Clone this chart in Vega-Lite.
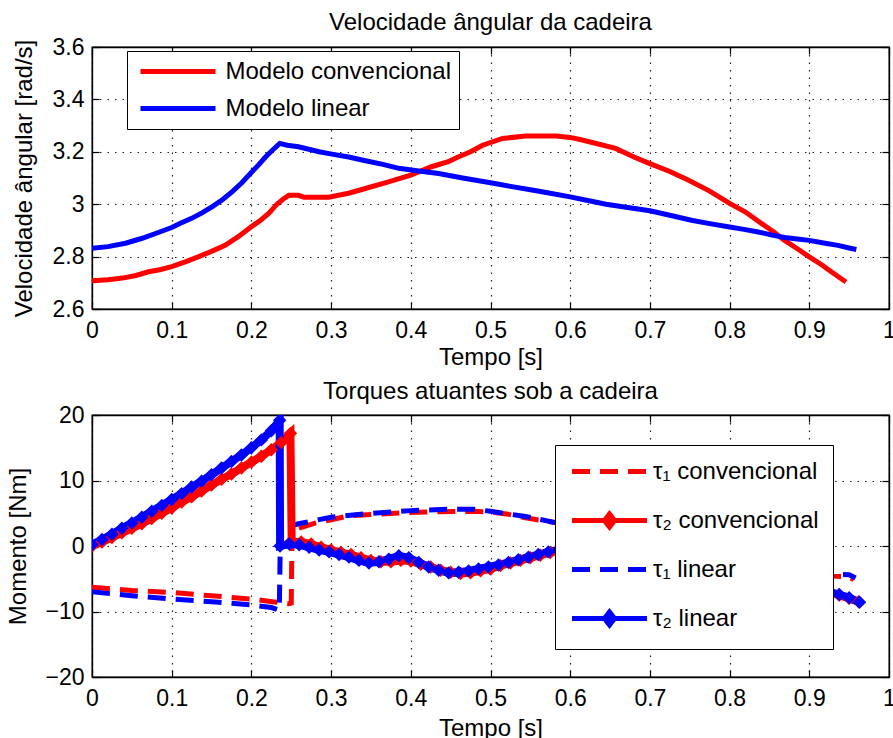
{
  "$schema": "https://vega.github.io/schema/vega-lite/v6.json",
  "padding": {"left": 5, "top": 10, "right": 0, "bottom": 0},
  "background": "white",
  "config": {
    "font": "Liberation Sans",
    "view": {"stroke": "black", "strokeWidth": 1.3},
    "axis": {"labelFontSize": 23, "labelColor": "black", "titleFontSize": 24, "titleFontWeight": "normal", "titleColor": "black", "domainColor": "black", "domainWidth": 1.3, "tickColor": "black", "tickWidth": 1.2, "tickSize": -7, "labelFlush": false, "labelOverlap": false, "gridColor": "#222", "gridDash": [1.5, 6], "gridWidth": 1.2},
    "axisX": {"labelPadding": 17},
    "axisY": {"labelPadding": 15},
    "title": {"fontSize": 24, "fontWeight": "normal", "color": "black", "baseline": "alphabetic", "frame": "group"}
  },
  "datasets": {
    "vel": [
      {"t": 0, "v": 2.708, "s": "Modelo convencional"},
      {"t": 0.02, "v": 2.712, "s": "Modelo convencional"},
      {"t": 0.038, "v": 2.718, "s": "Modelo convencional"},
      {"t": 0.055, "v": 2.728, "s": "Modelo convencional"},
      {"t": 0.071, "v": 2.742, "s": "Modelo convencional"},
      {"t": 0.085, "v": 2.75, "s": "Modelo convencional"},
      {"t": 0.1, "v": 2.762, "s": "Modelo convencional"},
      {"t": 0.117, "v": 2.78, "s": "Modelo convencional"},
      {"t": 0.134, "v": 2.8, "s": "Modelo convencional"},
      {"t": 0.15, "v": 2.82, "s": "Modelo convencional"},
      {"t": 0.167, "v": 2.843, "s": "Modelo convencional"},
      {"t": 0.183, "v": 2.875, "s": "Modelo convencional"},
      {"t": 0.199, "v": 2.912, "s": "Modelo convencional"},
      {"t": 0.212, "v": 2.94, "s": "Modelo convencional"},
      {"t": 0.222, "v": 2.966, "s": "Modelo convencional"},
      {"t": 0.232, "v": 3.0, "s": "Modelo convencional"},
      {"t": 0.24, "v": 3.02, "s": "Modelo convencional"},
      {"t": 0.247, "v": 3.034, "s": "Modelo convencional"},
      {"t": 0.259, "v": 3.034, "s": "Modelo convencional"},
      {"t": 0.266, "v": 3.027, "s": "Modelo convencional"},
      {"t": 0.297, "v": 3.027, "s": "Modelo convencional"},
      {"t": 0.322, "v": 3.042, "s": "Modelo convencional"},
      {"t": 0.343, "v": 3.06, "s": "Modelo convencional"},
      {"t": 0.372, "v": 3.085, "s": "Modelo convencional"},
      {"t": 0.4, "v": 3.111, "s": "Modelo convencional"},
      {"t": 0.426, "v": 3.143, "s": "Modelo convencional"},
      {"t": 0.447, "v": 3.162, "s": "Modelo convencional"},
      {"t": 0.46, "v": 3.181, "s": "Modelo convencional"},
      {"t": 0.475, "v": 3.2, "s": "Modelo convencional"},
      {"t": 0.49, "v": 3.225, "s": "Modelo convencional"},
      {"t": 0.515, "v": 3.251, "s": "Modelo convencional"},
      {"t": 0.544, "v": 3.26, "s": "Modelo convencional"},
      {"t": 0.582, "v": 3.26, "s": "Modelo convencional"},
      {"t": 0.6, "v": 3.255, "s": "Modelo convencional"},
      {"t": 0.615, "v": 3.245, "s": "Modelo convencional"},
      {"t": 0.657, "v": 3.213, "s": "Modelo convencional"},
      {"t": 0.68, "v": 3.18, "s": "Modelo convencional"},
      {"t": 0.7, "v": 3.155, "s": "Modelo convencional"},
      {"t": 0.725, "v": 3.125, "s": "Modelo convencional"},
      {"t": 0.748, "v": 3.092, "s": "Modelo convencional"},
      {"t": 0.775, "v": 3.05, "s": "Modelo convencional"},
      {"t": 0.8, "v": 3.003, "s": "Modelo convencional"},
      {"t": 0.82, "v": 2.97, "s": "Modelo convencional"},
      {"t": 0.836, "v": 2.935, "s": "Modelo convencional"},
      {"t": 0.855, "v": 2.895, "s": "Modelo convencional"},
      {"t": 0.869, "v": 2.862, "s": "Modelo convencional"},
      {"t": 0.885, "v": 2.83, "s": "Modelo convencional"},
      {"t": 0.9, "v": 2.799, "s": "Modelo convencional"},
      {"t": 0.915, "v": 2.77, "s": "Modelo convencional"},
      {"t": 0.928, "v": 2.741, "s": "Modelo convencional"},
      {"t": 0.946, "v": 2.703, "s": "Modelo convencional"},
      {"t": 0, "v": 2.832, "s": "Modelo linear"},
      {"t": 0.02, "v": 2.838, "s": "Modelo linear"},
      {"t": 0.042, "v": 2.851, "s": "Modelo linear"},
      {"t": 0.063, "v": 2.87, "s": "Modelo linear"},
      {"t": 0.084, "v": 2.893, "s": "Modelo linear"},
      {"t": 0.1, "v": 2.911, "s": "Modelo linear"},
      {"t": 0.113, "v": 2.93, "s": "Modelo linear"},
      {"t": 0.125, "v": 2.946, "s": "Modelo linear"},
      {"t": 0.138, "v": 2.967, "s": "Modelo linear"},
      {"t": 0.151, "v": 2.991, "s": "Modelo linear"},
      {"t": 0.164, "v": 3.018, "s": "Modelo linear"},
      {"t": 0.176, "v": 3.048, "s": "Modelo linear"},
      {"t": 0.188, "v": 3.082, "s": "Modelo linear"},
      {"t": 0.199, "v": 3.118, "s": "Modelo linear"},
      {"t": 0.209, "v": 3.15, "s": "Modelo linear"},
      {"t": 0.218, "v": 3.181, "s": "Modelo linear"},
      {"t": 0.226, "v": 3.205, "s": "Modelo linear"},
      {"t": 0.2356, "v": 3.232, "s": "Modelo linear"},
      {"t": 0.245, "v": 3.225, "s": "Modelo linear"},
      {"t": 0.259, "v": 3.219, "s": "Modelo linear"},
      {"t": 0.285, "v": 3.2, "s": "Modelo linear"},
      {"t": 0.301, "v": 3.191, "s": "Modelo linear"},
      {"t": 0.322, "v": 3.18, "s": "Modelo linear"},
      {"t": 0.343, "v": 3.166, "s": "Modelo linear"},
      {"t": 0.365, "v": 3.152, "s": "Modelo linear"},
      {"t": 0.385, "v": 3.137, "s": "Modelo linear"},
      {"t": 0.41, "v": 3.127, "s": "Modelo linear"},
      {"t": 0.435, "v": 3.117, "s": "Modelo linear"},
      {"t": 0.465, "v": 3.1, "s": "Modelo linear"},
      {"t": 0.5, "v": 3.082, "s": "Modelo linear"},
      {"t": 0.525, "v": 3.068, "s": "Modelo linear"},
      {"t": 0.552, "v": 3.054, "s": "Modelo linear"},
      {"t": 0.575, "v": 3.042, "s": "Modelo linear"},
      {"t": 0.6, "v": 3.028, "s": "Modelo linear"},
      {"t": 0.622, "v": 3.014, "s": "Modelo linear"},
      {"t": 0.645, "v": 3.0, "s": "Modelo linear"},
      {"t": 0.67, "v": 2.988, "s": "Modelo linear"},
      {"t": 0.7, "v": 2.975, "s": "Modelo linear"},
      {"t": 0.725, "v": 2.958, "s": "Modelo linear"},
      {"t": 0.752, "v": 2.939, "s": "Modelo linear"},
      {"t": 0.775, "v": 2.926, "s": "Modelo linear"},
      {"t": 0.8, "v": 2.913, "s": "Modelo linear"},
      {"t": 0.818, "v": 2.904, "s": "Modelo linear"},
      {"t": 0.836, "v": 2.894, "s": "Modelo linear"},
      {"t": 0.852, "v": 2.883, "s": "Modelo linear"},
      {"t": 0.869, "v": 2.873, "s": "Modelo linear"},
      {"t": 0.885, "v": 2.867, "s": "Modelo linear"},
      {"t": 0.9, "v": 2.862, "s": "Modelo linear"},
      {"t": 0.918, "v": 2.852, "s": "Modelo linear"},
      {"t": 0.936, "v": 2.843, "s": "Modelo linear"},
      {"t": 0.95, "v": 2.833, "s": "Modelo linear"},
      {"t": 0.959, "v": 2.827, "s": "Modelo linear"}
    ],
    "tor": [
      {"t": 0, "v": -6.3, "s": "τ₁ convencional"},
      {"t": 0.05, "v": -6.8, "s": "τ₁ convencional"},
      {"t": 0.1, "v": -7.1, "s": "τ₁ convencional"},
      {"t": 0.15, "v": -7.6, "s": "τ₁ convencional"},
      {"t": 0.2, "v": -8.1, "s": "τ₁ convencional"},
      {"t": 0.226, "v": -8.5, "s": "τ₁ convencional"},
      {"t": 0.247, "v": -8.8, "s": "τ₁ convencional"},
      {"t": 0.25, "v": -8.7, "s": "τ₁ convencional"},
      {"t": 0.251, "v": 2.4, "s": "τ₁ convencional"},
      {"t": 0.28, "v": 3.5, "s": "τ₁ convencional"},
      {"t": 0.3, "v": 4.0, "s": "τ₁ convencional"},
      {"t": 0.322, "v": 4.6, "s": "τ₁ convencional"},
      {"t": 0.364, "v": 4.9, "s": "τ₁ convencional"},
      {"t": 0.4, "v": 5.1, "s": "τ₁ convencional"},
      {"t": 0.427, "v": 5.2, "s": "τ₁ convencional"},
      {"t": 0.477, "v": 5.3, "s": "τ₁ convencional"},
      {"t": 0.5, "v": 5.2, "s": "τ₁ convencional"},
      {"t": 0.52, "v": 4.9, "s": "τ₁ convencional"},
      {"t": 0.544, "v": 4.3, "s": "τ₁ convencional"},
      {"t": 0.58, "v": 3.6, "s": "τ₁ convencional"},
      {"t": 0.62, "v": 2.6, "s": "τ₁ convencional"},
      {"t": 0.66, "v": 1.5, "s": "τ₁ convencional"},
      {"t": 0.7, "v": 0.4, "s": "τ₁ convencional"},
      {"t": 0.75, "v": -1.0, "s": "τ₁ convencional"},
      {"t": 0.8, "v": -2.3, "s": "τ₁ convencional"},
      {"t": 0.85, "v": -3.4, "s": "τ₁ convencional"},
      {"t": 0.9, "v": -4.2, "s": "τ₁ convencional"},
      {"t": 0.928, "v": -4.6, "s": "τ₁ convencional"},
      {"t": 0.948, "v": -4.7, "s": "τ₁ convencional"},
      {"t": 0.956, "v": -5.1, "s": "τ₁ convencional"},
      {"t": 0, "v": 0, "s": "τ₂ convencional"},
      {"t": 0.0125, "v": 0.6, "s": "τ₂ convencional"},
      {"t": 0.025, "v": 1.3, "s": "τ₂ convencional"},
      {"t": 0.0375, "v": 2.0, "s": "τ₂ convencional"},
      {"t": 0.05, "v": 2.7, "s": "τ₂ convencional"},
      {"t": 0.0625, "v": 3.4, "s": "τ₂ convencional"},
      {"t": 0.075, "v": 4.2, "s": "τ₂ convencional"},
      {"t": 0.0875, "v": 5.0, "s": "τ₂ convencional"},
      {"t": 0.1, "v": 5.8, "s": "τ₂ convencional"},
      {"t": 0.1125, "v": 6.7, "s": "τ₂ convencional"},
      {"t": 0.125, "v": 7.5, "s": "τ₂ convencional"},
      {"t": 0.1375, "v": 8.4, "s": "τ₂ convencional"},
      {"t": 0.15, "v": 9.3, "s": "τ₂ convencional"},
      {"t": 0.1625, "v": 10.2, "s": "τ₂ convencional"},
      {"t": 0.175, "v": 11.0, "s": "τ₂ convencional"},
      {"t": 0.1875, "v": 11.9, "s": "τ₂ convencional"},
      {"t": 0.2, "v": 12.8, "s": "τ₂ convencional"},
      {"t": 0.2125, "v": 13.7, "s": "τ₂ convencional"},
      {"t": 0.225, "v": 14.7, "s": "τ₂ convencional"},
      {"t": 0.2375, "v": 15.8, "s": "τ₂ convencional"},
      {"t": 0.249, "v": 17.2, "s": "τ₂ convencional"},
      {"t": 0.2505, "v": 0.8, "s": "τ₂ convencional"},
      {"t": 0.2625, "v": 0.6, "s": "τ₂ convencional"},
      {"t": 0.275, "v": 0.3, "s": "τ₂ convencional"},
      {"t": 0.2875, "v": -0.2, "s": "τ₂ convencional"},
      {"t": 0.3, "v": -0.6, "s": "τ₂ convencional"},
      {"t": 0.3125, "v": -1.0, "s": "τ₂ convencional"},
      {"t": 0.325, "v": -1.3, "s": "τ₂ convencional"},
      {"t": 0.3375, "v": -1.8, "s": "τ₂ convencional"},
      {"t": 0.35, "v": -2.2, "s": "τ₂ convencional"},
      {"t": 0.3625, "v": -2.4, "s": "τ₂ convencional"},
      {"t": 0.375, "v": -2.4, "s": "τ₂ convencional"},
      {"t": 0.3875, "v": -2.2, "s": "τ₂ convencional"},
      {"t": 0.4, "v": -2.3, "s": "τ₂ convencional"},
      {"t": 0.4125, "v": -2.8, "s": "τ₂ convencional"},
      {"t": 0.425, "v": -3.2, "s": "τ₂ convencional"},
      {"t": 0.4375, "v": -3.7, "s": "τ₂ convencional"},
      {"t": 0.45, "v": -4.0, "s": "τ₂ convencional"},
      {"t": 0.4625, "v": -4.2, "s": "τ₂ convencional"},
      {"t": 0.475, "v": -4.1, "s": "τ₂ convencional"},
      {"t": 0.4875, "v": -3.8, "s": "τ₂ convencional"},
      {"t": 0.5, "v": -3.5, "s": "τ₂ convencional"},
      {"t": 0.5125, "v": -3.0, "s": "τ₂ convencional"},
      {"t": 0.525, "v": -2.6, "s": "τ₂ convencional"},
      {"t": 0.5375, "v": -2.2, "s": "τ₂ convencional"},
      {"t": 0.55, "v": -1.8, "s": "τ₂ convencional"},
      {"t": 0.5625, "v": -1.4, "s": "τ₂ convencional"},
      {"t": 0.575, "v": -1.0, "s": "τ₂ convencional"},
      {"t": 0.5875, "v": -0.7, "s": "τ₂ convencional"},
      {"t": 0.6, "v": -0.5, "s": "τ₂ convencional"},
      {"t": 0.65, "v": -1.0, "s": "τ₂ convencional"},
      {"t": 0.7, "v": -2.0, "s": "τ₂ convencional"},
      {"t": 0.75, "v": -3.2, "s": "τ₂ convencional"},
      {"t": 0.8, "v": -4.3, "s": "τ₂ convencional"},
      {"t": 0.85, "v": -5.4, "s": "τ₂ convencional"},
      {"t": 0.9, "v": -6.4, "s": "τ₂ convencional"},
      {"t": 0.9125, "v": -6.8, "s": "τ₂ convencional"},
      {"t": 0.925, "v": -7.1, "s": "τ₂ convencional"},
      {"t": 0.9375, "v": -7.5, "s": "τ₂ convencional"},
      {"t": 0.95, "v": -8.0, "s": "τ₂ convencional"},
      {"t": 0.962, "v": -8.5, "s": "τ₂ convencional"},
      {"t": 0, "v": -7.0, "s": "τ₁ linear"},
      {"t": 0.05, "v": -7.6, "s": "τ₁ linear"},
      {"t": 0.1, "v": -8.1, "s": "τ₁ linear"},
      {"t": 0.15, "v": -8.5, "s": "τ₁ linear"},
      {"t": 0.2, "v": -9.0, "s": "τ₁ linear"},
      {"t": 0.225, "v": -9.4, "s": "τ₁ linear"},
      {"t": 0.235, "v": -9.8, "s": "τ₁ linear"},
      {"t": 0.2365, "v": 2.6, "s": "τ₁ linear"},
      {"t": 0.259, "v": 3.4, "s": "τ₁ linear"},
      {"t": 0.3, "v": 4.4, "s": "τ₁ linear"},
      {"t": 0.343, "v": 4.9, "s": "τ₁ linear"},
      {"t": 0.4, "v": 5.4, "s": "τ₁ linear"},
      {"t": 0.447, "v": 5.6, "s": "τ₁ linear"},
      {"t": 0.48, "v": 5.6, "s": "τ₁ linear"},
      {"t": 0.5, "v": 5.3, "s": "τ₁ linear"},
      {"t": 0.544, "v": 4.5, "s": "τ₁ linear"},
      {"t": 0.58, "v": 3.6, "s": "τ₁ linear"},
      {"t": 0.62, "v": 2.7, "s": "τ₁ linear"},
      {"t": 0.66, "v": 1.6, "s": "τ₁ linear"},
      {"t": 0.7, "v": 0.5, "s": "τ₁ linear"},
      {"t": 0.75, "v": -0.8, "s": "τ₁ linear"},
      {"t": 0.8, "v": -2.1, "s": "τ₁ linear"},
      {"t": 0.85, "v": -3.2, "s": "τ₁ linear"},
      {"t": 0.9, "v": -4.0, "s": "τ₁ linear"},
      {"t": 0.93, "v": -4.3, "s": "τ₁ linear"},
      {"t": 0.95, "v": -4.4, "s": "τ₁ linear"},
      {"t": 0.958, "v": -4.9, "s": "τ₁ linear"},
      {"t": 0, "v": 0.2, "s": "τ₂ linear"},
      {"t": 0.0125, "v": 1.0, "s": "τ₂ linear"},
      {"t": 0.025, "v": 1.8, "s": "τ₂ linear"},
      {"t": 0.0375, "v": 2.7, "s": "τ₂ linear"},
      {"t": 0.05, "v": 3.5, "s": "τ₂ linear"},
      {"t": 0.0625, "v": 4.4, "s": "τ₂ linear"},
      {"t": 0.075, "v": 5.3, "s": "τ₂ linear"},
      {"t": 0.0875, "v": 6.2, "s": "τ₂ linear"},
      {"t": 0.1, "v": 7.1, "s": "τ₂ linear"},
      {"t": 0.1125, "v": 8.0, "s": "τ₂ linear"},
      {"t": 0.125, "v": 9.0, "s": "τ₂ linear"},
      {"t": 0.1375, "v": 9.9, "s": "τ₂ linear"},
      {"t": 0.15, "v": 10.9, "s": "τ₂ linear"},
      {"t": 0.1625, "v": 11.9, "s": "τ₂ linear"},
      {"t": 0.175, "v": 12.9, "s": "τ₂ linear"},
      {"t": 0.1875, "v": 13.9, "s": "τ₂ linear"},
      {"t": 0.2, "v": 15.0, "s": "τ₂ linear"},
      {"t": 0.2125, "v": 16.2, "s": "τ₂ linear"},
      {"t": 0.225, "v": 17.6, "s": "τ₂ linear"},
      {"t": 0.2355, "v": 19.2, "s": "τ₂ linear"},
      {"t": 0.236, "v": 0.0, "s": "τ₂ linear"},
      {"t": 0.2475, "v": 0.3, "s": "τ₂ linear"},
      {"t": 0.26, "v": 0.2, "s": "τ₂ linear"},
      {"t": 0.2725, "v": -0.2, "s": "τ₂ linear"},
      {"t": 0.285, "v": -0.6, "s": "τ₂ linear"},
      {"t": 0.2975, "v": -0.9, "s": "τ₂ linear"},
      {"t": 0.31, "v": -1.3, "s": "τ₂ linear"},
      {"t": 0.3225, "v": -1.7, "s": "τ₂ linear"},
      {"t": 0.335, "v": -2.2, "s": "τ₂ linear"},
      {"t": 0.3475, "v": -2.6, "s": "τ₂ linear"},
      {"t": 0.36, "v": -2.4, "s": "τ₂ linear"},
      {"t": 0.3725, "v": -2.0, "s": "τ₂ linear"},
      {"t": 0.385, "v": -1.5, "s": "τ₂ linear"},
      {"t": 0.3975, "v": -1.8, "s": "τ₂ linear"},
      {"t": 0.41, "v": -2.5, "s": "τ₂ linear"},
      {"t": 0.4225, "v": -3.2, "s": "τ₂ linear"},
      {"t": 0.435, "v": -3.7, "s": "τ₂ linear"},
      {"t": 0.4475, "v": -4.1, "s": "τ₂ linear"},
      {"t": 0.46, "v": -4.0, "s": "τ₂ linear"},
      {"t": 0.4725, "v": -3.8, "s": "τ₂ linear"},
      {"t": 0.485, "v": -3.5, "s": "τ₂ linear"},
      {"t": 0.4975, "v": -3.2, "s": "τ₂ linear"},
      {"t": 0.51, "v": -2.9, "s": "τ₂ linear"},
      {"t": 0.5225, "v": -2.5, "s": "τ₂ linear"},
      {"t": 0.535, "v": -2.1, "s": "τ₂ linear"},
      {"t": 0.5475, "v": -1.7, "s": "τ₂ linear"},
      {"t": 0.56, "v": -1.3, "s": "τ₂ linear"},
      {"t": 0.5725, "v": -0.9, "s": "τ₂ linear"},
      {"t": 0.585, "v": -0.6, "s": "τ₂ linear"},
      {"t": 0.6, "v": -0.4, "s": "τ₂ linear"},
      {"t": 0.65, "v": -0.9, "s": "τ₂ linear"},
      {"t": 0.7, "v": -1.9, "s": "τ₂ linear"},
      {"t": 0.75, "v": -3.1, "s": "τ₂ linear"},
      {"t": 0.8, "v": -4.2, "s": "τ₂ linear"},
      {"t": 0.85, "v": -5.3, "s": "τ₂ linear"},
      {"t": 0.9, "v": -6.3, "s": "τ₂ linear"},
      {"t": 0.9125, "v": -6.7, "s": "τ₂ linear"},
      {"t": 0.925, "v": -7.0, "s": "τ₂ linear"},
      {"t": 0.9375, "v": -7.4, "s": "τ₂ linear"},
      {"t": 0.95, "v": -7.9, "s": "τ₂ linear"},
      {"t": 0.963, "v": -8.6, "s": "τ₂ linear"}
    ]
  },
  "resolve": {
    "scale": {"x": "independent", "y": "independent", "color": "independent", "strokeDash": "independent"},
    "legend": {"color": "independent", "strokeDash": "independent"}
  },
  "spacing": 9,
  "vconcat": [
    {
      "width": 797,
      "height": 262,
      "title": {"text": "Velocidade ângular da cadeira", "offset": 1},
      "data": {"name": "vel"},
      "layer": [
        {
          "layer": [
            {
              "mark": {"type": "line", "strokeWidth": 5, "clip": true},
              "encoding": {
                "x": {"field": "t", "type": "quantitative", "scale": {"domain": [0, 1], "nice": false, "zero": false},
                  "axis": {"values": [0, 0.1, 0.2, 0.3, 0.4, 0.5, 0.6, 0.7, 0.8, 0.9, 1], "format": "~g", "title": "Tempo [s]", "titleBaseline": "alphabetic", "titleY": 55}},
                "y": {"field": "v", "type": "quantitative", "scale": {"domain": [2.6, 3.6], "nice": false, "zero": false},
                  "axis": {"values": [2.6, 2.8, 3.0, 3.2, 3.4, 3.6], "format": "~g", "title": "Velocidade ângular [rad/s]", "titleBaseline": "alphabetic", "titleX": -60.5}},
                "color": {"field": "s", "type": "nominal",
                  "scale": {"domain": ["Modelo convencional", "Modelo linear"], "range": ["#ff0000", "#0000ff"]},
                  "legend": {"orient": "none", "legendX": 35, "legendY": 4, "title": null, "symbolType": "M-3.75,0H3.75", "symbolSize": 400, "symbolStrokeWidth": 5, "symbolOffset": 30.5, "labelFontSize": 24, "labelColor": "black", "labelOffset": 35, "padding": 8, "rowPadding": 12, "fillColor": "white", "strokeColor": "black", "labelLimit": 400}}
              }
            }
          ]
        },
        {
          "mark": {"type": "point", "opacity": 0},
          "encoding": {
            "x": {"field": "t", "type": "quantitative", "scale": {"domain": [0, 1], "nice": false, "zero": false},
              "axis": {"orient": "top", "values": [0, 0.1, 0.2, 0.3, 0.4, 0.5, 0.6, 0.7, 0.8, 0.9, 1], "labels": false, "grid": false, "title": null}},
            "y": {"field": "v", "type": "quantitative", "scale": {"domain": [2.6, 3.6], "nice": false, "zero": false},
              "axis": {"orient": "right", "values": [2.6, 2.8, 3.0, 3.2, 3.4, 3.6], "labels": false, "grid": false, "title": null}}
          }
        }
      ],
      "resolve": {"axis": {"x": "independent", "y": "independent"}}
    },
    {
      "width": 797,
      "height": 262,
      "title": {"text": "Torques atuantes sob a cadeira", "offset": 0},
      "data": {"name": "tor"},
      "layer": [
        {
          "layer": [
            {
              "transform": [{"filter": "indexof(datum.s, '₁') >= 0"}],
              "mark": {"type": "line", "strokeWidth": 5, "clip": true},
              "encoding": {
                "x": {"field": "t", "type": "quantitative", "scale": {"domain": [0, 1], "nice": false, "zero": false},
                  "axis": {"values": [0, 0.1, 0.2, 0.3, 0.4, 0.5, 0.6, 0.7, 0.8, 0.9, 1], "format": "~g", "title": "Tempo [s]", "titleBaseline": "alphabetic", "titleY": 58}},
                "y": {"field": "v", "type": "quantitative", "scale": {"domain": [-20, 20], "nice": false, "zero": false},
                  "axis": {"values": [-20, -10, 0, 10, 20], "title": "Momento [Nm]", "titleBaseline": "alphabetic", "titleX": -66.5}},
                "color": {"field": "s", "type": "nominal",
                  "scale": {"domain": ["τ₁ convencional", "τ₂ convencional", "τ₁ linear", "τ₂ linear"], "range": ["#ff0000", "#ff0000", "#0000ff", "#0000ff"]},
                  "legend": {"orient": "none", "legendX": 463, "legendY": 30, "title": null, "symbolType": "M-3.75,0H3.75", "symbolSize": 400, "symbolStrokeWidth": 5, "symbolOffset": 28, "labelFontSize": 24, "labelColor": "black", "labelOffset": 31, "padding": 14, "rowPadding": 20, "fillColor": "white", "strokeColor": "black", "labelLimit": 400,
                    "encode": {"symbols": {"update": {
                      "shape": {"signal": "indexof(datum.value, '₂') >= 0 ? 'M-3.75,0H3.75M0,-0.65L0.5,0L0,0.65L-0.5,0Z' : 'M-3.75,0H3.75'"},
                      "fill": {"signal": "indexof(datum.value, 'convencional') >= 0 ? '#ff0000' : '#0000ff'"},
                      "stroke": {"signal": "indexof(datum.value, 'convencional') >= 0 ? '#ff0000' : '#0000ff'"},
                      "strokeWidth": {"value": 5},
                      "opacity": {"value": 1},
                      "fillOpacity": {"value": 1},
                      "strokeDash": {"signal": "indexof(datum.value, '₁') >= 0 ? [18, 10] : [1, 0]"}
                    }}}}},
                "strokeDash": {"field": "s", "type": "nominal",
                  "scale": {"domain": ["τ₁ convencional", "τ₂ convencional", "τ₁ linear", "τ₂ linear"], "range": [[18, 10], [1, 0], [18, 10], [1, 0]]},
                  "legend": {"orient": "none", "legendX": 463, "legendY": 30, "title": null, "symbolType": "M-3.75,0H3.75", "symbolSize": 400, "symbolStrokeWidth": 5, "symbolOffset": 28, "labelFontSize": 24, "labelColor": "black", "labelOffset": 31, "padding": 14, "rowPadding": 20, "fillColor": "white", "strokeColor": "black", "labelLimit": 400}}
              }
            },
            {
              "transform": [{"filter": "indexof(datum.s, '₂') >= 0"}],
              "mark": {"type": "line", "strokeWidth": 8, "clip": true},
              "encoding": {
                "x": {"field": "t", "type": "quantitative"},
                "y": {"field": "v", "type": "quantitative"},
                "color": {"field": "s", "type": "nominal"}
              }
            },
            {
              "transform": [{"filter": "indexof(datum.s, '₂') >= 0"}],
              "mark": {"type": "point", "shape": "diamond", "filled": true, "size": 180, "opacity": 1, "clip": true},
              "encoding": {
                "x": {"field": "t", "type": "quantitative"},
                "y": {"field": "v", "type": "quantitative"},
                "color": {"field": "s", "type": "nominal"}
              }
            }
          ]
        },
        {
          "mark": {"type": "point", "opacity": 0},
          "encoding": {
            "x": {"field": "t", "type": "quantitative", "scale": {"domain": [0, 1], "nice": false, "zero": false},
              "axis": {"orient": "top", "values": [0, 0.1, 0.2, 0.3, 0.4, 0.5, 0.6, 0.7, 0.8, 0.9, 1], "labels": false, "grid": false, "title": null}},
            "y": {"field": "v", "type": "quantitative", "scale": {"domain": [-20, 20], "nice": false, "zero": false},
              "axis": {"orient": "right", "values": [-20, -10, 0, 10, 20], "labels": false, "grid": false, "title": null}}
          }
        }
      ],
      "resolve": {"axis": {"x": "independent", "y": "independent"}}
    }
  ]
}
